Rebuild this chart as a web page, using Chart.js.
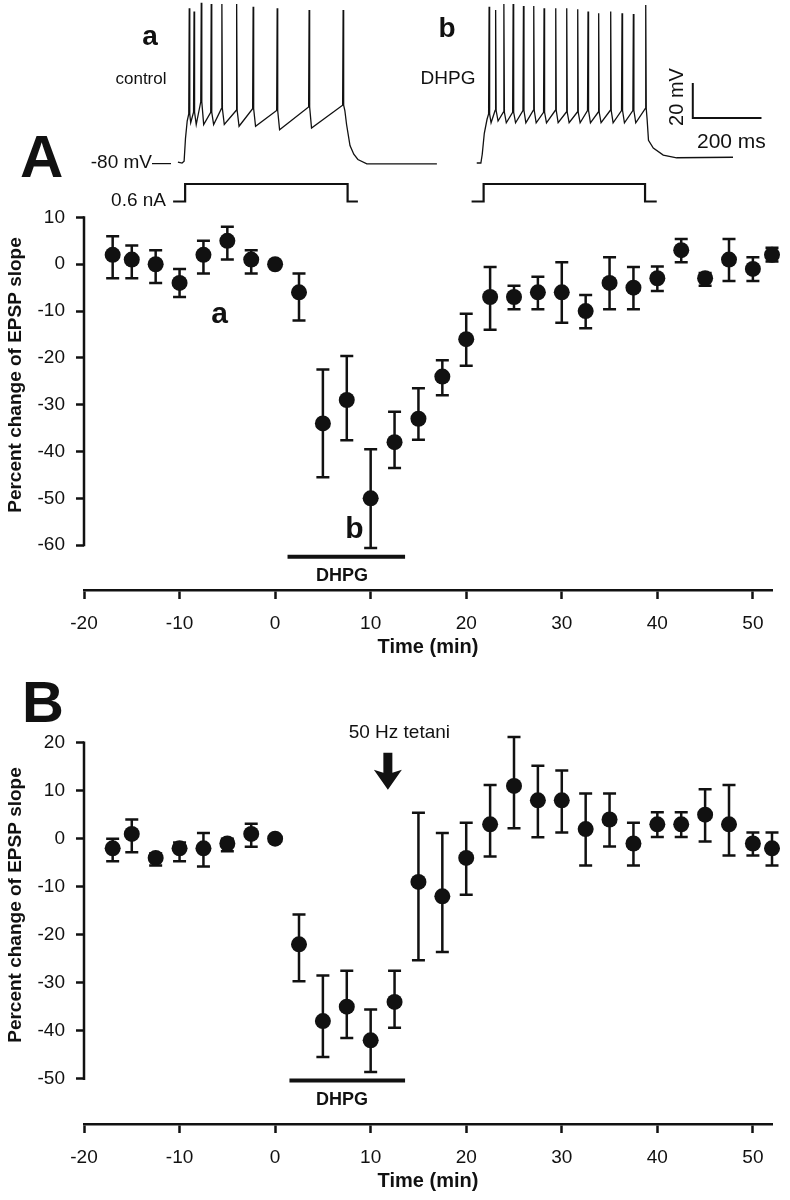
<!DOCTYPE html>
<html>
<head>
<meta charset="utf-8">
<script src="https://cdn.jsdelivr.net/npm/chart.js@4.4.1/dist/chart.umd.min.js"></script>
<style>
  html, body { margin: 0; padding: 0; background: #fff; }
  #page { position: relative; width: 790px; height: 1200px; overflow: hidden; background: #fff; }
  canvas { position: absolute; left: 0; }
</style>
</head>
<body>
<div id="page">
  <canvas id="chartA" width="790" height="465" style="top:195px"></canvas>
  <canvas id="chartB" width="790" height="534" style="top:660px"></canvas>
  <canvas id="traces" width="790" height="215" style="top:0px"></canvas>
</div>
<script>
const INK = "#111";
const FONT = "'Liberation Sans', Arial, Helvetica, sans-serif";

// ! x axis ticks (minutes), shared by both panels
const xTicks = [-20, -10, 0, 10, 20, 30, 40, 50];

// ! panel A : DHPG alone
const timesA = [-17, -15, -12.5, -10, -7.5, -5, -2.5, 0, 2.5, 5, 7.5, 10, 12.5, 15, 17.5, 20, 22.5, 25, 27.5, 30, 32.5, 35, 37.5, 40, 42.5, 45, 47.5, 50, 52];
const valuesA = [2, 1, 0, -4, 2, 5, 1, 0, -6, -34, -29, -50, -38, -33, -24, -16, -7, -7, -6, -6, -10, -4, -5, -3, 3, -3, 1, -1, 2];
const highA = [6, 4, 3, -1, 5, 8, 3, null, -2, -22.5, -19.6, -39.5, -31.5, -26.5, -20.5, -10.6, -0.6, -4.6, -2.7, 0.4, -6.6, 1.5, -0.6, -0.5, 5.4, -1.9, 5.4, 1.5, 3.5];
const lowA = [-3, -3, -4, -7, -2, 1, -2, null, -12, -45.5, -37.6, -60.6, -43.5, -37.5, -28, -21.7, -14, -9.6, -9.6, -12.5, -13.7, -9.6, -9.6, -5.7, 0.4, -4.6, -3.6, -3.6, 0.6];
const yTicksA = [10, 0, -10, -20, -30, -40, -50, -60];

// ! panel B : DHPG then 50 Hz tetani
const timesB = [-17, -15, -12.5, -10, -7.5, -5, -2.5, 0, 2.5, 5, 7.5, 10, 12.5, 15, 17.5, 20, 22.5, 25, 27.5, 30, 32.5, 35, 37.5, 40, 42.5, 45, 47.5, 50, 52];
const valuesB = [-2, 1, -4, -2, -2, -1, 1, 0, -22, -38, -35, -42, -34, -9, -12, -4, 3, 11, 8, 8, 2, 4, -1, 3, 3, 5, 3, -1, -2];
const highB = [0, 4, -3.1, -0.8, 1.2, 0, 3.1, null, -15.8, -28.5, -27.5, -35.6, -27.5, 5.4, 1.2, 3.3, 11.2, 21.2, 15.2, 14.2, 9.4, 9.4, 3.3, 5.5, 5.5, 10.3, 11.2, 1.3, 1.3];
const lowB = [-4.7, -2.8, -5.6, -4.7, -5.8, -2.6, -1.7, null, -29.7, -45.5, -41.5, -48.6, -39.4, -25.3, -23.6, -11.7, -3.7, 2.2, 0.3, 1.3, -5.6, -1.6, -5.6, 0.35, 0.35, -0.6, -3.5, -3.5, -5.6];
const yTicksB = [20, 10, 0, -10, -20, -30, -40, -50];

// DHPG application (min)
const dhpgA = [1.3, 13.6];
const dhpgB = [1.5, 13.6];

// ! voltage traces (ms, mV)
const onsetMsA = [518, 530, 536, 540, 545];
const onsetMvA = [-79.5, -80, -79, -66, -56];
const spikeMsA = [551, 565, 586, 615, 646, 689, 737, 807, 900, 999];
const spikePeakA = [8.4, 6.5, 11.6, 10.9, 10.9, 10.9, 9.3, 8.4, 7.4, 7.4];
const spikeBaseA = [-52, -51, -45, -51, -49, -50, -49, -50, -48, -47];
const troughA = [-57, -58, -58, -58, -58, -59, -59, -61, -60];
const tailMsA = [1004, 1009, 1019, 1030, 1042, 1068, 1272];
const tailMvA = [-50, -58, -70, -75, -78, -80.5, -80.5];

const onsetMsB = [1388, 1400, 1404, 1410, 1418];
const onsetMvB = [-80, -80, -75, -63, -55];
const spikeMsB = [1424, 1443, 1467, 1494, 1524, 1554, 1584, 1618, 1650, 1682, 1712, 1743, 1778, 1811, 1844, 1880];
const spikePeakB = [9.3, 7.4, 10.9, 10.9, 9.7, 9.7, 8.4, 8.4, 8.4, 7.8, 6.5, 5.5, 6.5, 5.5, 5.1, 10.3];
const spikeBaseB = [-52, -50, -51, -51, -50, -50, -51, -50, -51, -51, -50, -51, -50, -50, -50, -49];
const troughB = [-57, -56, -57, -57, -57, -57, -57, -57, -57, -57, -57, -57, -57, -57, -57];
const tailMsB = [1884, 1888, 1902, 1931, 1970, 2134];
const tailMvB = [-55, -67, -71.5, -75.5, -77, -76.7];

// current steps (ms, nA)
const stepMsA = [504, 539, 1012, 1042];
const stepNaA = [0, 0.6, 0, 0];
const stepMsB = [1373, 1408, 1878, 1912];
const stepNaB = [0, 0.6, 0, 0];

// ! joins the read points into one polyline
function buildTrace(onMs, onMv, spikes, peaks, bases, troughs, tailMs, tailMv) {
  const pts = onMs.map((t, i) => ({ x: t, y: onMv[i] }));
  spikes.forEach((t, i) => {
    pts.push({ x: t - 1.5, y: bases[i] });
    pts.push({ x: t, y: peaks[i] });
    pts.push({ x: t + 1.5, y: bases[i] });
    if (i < troughs.length) {
      const gap = spikes[i + 1] - t;
      pts.push({ x: t + Math.min(7, gap * 0.3), y: troughs[i] });
    }
  });
  tailMs.forEach((t, i) => pts.push({ x: t, y: tailMv[i] }));
  return pts;
}

// ! error bars drawn with the chart's own scales
const errorBars = {
  id: "errorBars",
  beforeDatasetsDraw(chart) {
    const ctx = chart.ctx;
    const xs = chart.scales.x;
    const ys = chart.scales.y;
    chart.data.datasets.forEach((ds) => {
      if (!ds.errLow) return;
      ctx.save();
      ctx.strokeStyle = INK;
      ctx.lineWidth = 2.5;
      ds.data.forEach((p, i) => {
        const lo = ds.errLow[i];
        const hi = ds.errHigh[i];
        if (lo === null || hi === null) return;
        const x = xs.getPixelForValue(p.x);
        const yl = ys.getPixelForValue(lo);
        const yh = ys.getPixelForValue(hi);
        ctx.beginPath();
        ctx.moveTo(x, yl);
        ctx.lineTo(x, yh);
        ctx.moveTo(x - 6.5, yl);
        ctx.lineTo(x + 6.5, yl);
        ctx.moveTo(x - 6.5, yh);
        ctx.lineTo(x + 6.5, yh);
        ctx.stroke();
      });
      ctx.restore();
    });
  },
};

// ! axis line, DHPG bar, labels for each panel
function makeExtras(cfg) {
  return {
    id: "extras" + cfg.name,
    afterDraw(chart) {
      const ctx = chart.ctx;
      const xs = chart.scales.x;
      const ys = chart.scales.y;
      const left = chart.chartArea.left;
      ctx.save();
      ctx.strokeStyle = INK;
      ctx.fillStyle = INK;

      // y axis only between its end ticks
      ctx.lineWidth = 2.5;
      ctx.beginPath();
      ctx.moveTo(left, ys.getPixelForValue(cfg.yTicks[0]) - 1.2);
      ctx.lineTo(left, ys.getPixelForValue(cfg.yTicks[cfg.yTicks.length - 1]) + 1.2);
      ctx.stroke();

      // DHPG bar
      ctx.lineWidth = 4;
      ctx.beginPath();
      ctx.moveTo(xs.getPixelForValue(cfg.dhpg[0]), ys.getPixelForValue(cfg.barY));
      ctx.lineTo(xs.getPixelForValue(cfg.dhpg[1]), ys.getPixelForValue(cfg.barY));
      ctx.stroke();
      ctx.font = "bold 18px " + FONT;
      ctx.textAlign = "center";
      ctx.textBaseline = "middle";
      ctx.fillText("DHPG", xs.getPixelForValue(7), ys.getPixelForValue(cfg.barY - 4));

      // y title
      ctx.save();
      ctx.translate(16, cfg.titleY);
      ctx.rotate(-Math.PI / 2);
      ctx.font = "bold 19px " + FONT;
      ctx.fillText("Percent change of EPSP slope", 0, 0);
      ctx.restore();

      if (cfg.name === "A") {
        ctx.font = "bold 30px " + FONT;
        ctx.fillText("a", xs.getPixelForValue(-5.8), ys.getPixelForValue(-10.8));
        ctx.fillText("b", xs.getPixelForValue(8.3), ys.getPixelForValue(-56.7));
      } else {
        ctx.font = "19px " + FONT;
        ctx.fillText("50 Hz tetani", xs.getPixelForValue(13), ys.getPixelForValue(22));
        // down arrow for the tetanus
        const ax = xs.getPixelForValue(11.8);
        const top = ys.getPixelForValue(17.9);
        const bot = ys.getPixelForValue(10.2);
        ctx.beginPath();
        ctx.moveTo(ax - 4.5, top);
        ctx.lineTo(ax + 4.5, top);
        ctx.lineTo(ax + 4.5, bot - 17);
        ctx.lineTo(ax + 14, bot - 20);
        ctx.lineTo(ax, bot);
        ctx.lineTo(ax - 14, bot - 20);
        ctx.lineTo(ax - 4.5, bot - 17);
        ctx.closePath();
        ctx.fill();
        ctx.font = "bold 58px " + FONT;
        ctx.textAlign = "left";
        ctx.textBaseline = "alphabetic";
        ctx.fillText("B", 22, 62);
      }
      ctx.restore();
    },
  };
}

function makePanel(cfg) {
  return new Chart(document.getElementById(cfg.canvas), {
    type: "scatter",
    data: {
      datasets: [
        {
          data: cfg.times.map((t, i) => ({ x: t, y: cfg.values[i] })),
          errLow: cfg.low,
          errHigh: cfg.high,
          pointRadius: 8,
          pointHoverRadius: 8,
          backgroundColor: INK,
          borderWidth: 0,
          clip: false,
        },
      ],
    },
    options: {
      responsive: false,
      animation: false,
      devicePixelRatio: 1,
      events: [],
      layout: { padding: { top: cfg.padTop, right: 18, left: 0, bottom: 0 } },
      plugins: { legend: { display: false }, tooltip: { enabled: false } },
      scales: {
        x: {
          type: "linear",
          min: -20,
          max: 52,
          afterBuildTicks: (s) => { s.ticks = xTicks.map((v) => ({ value: v })); },
          afterFit: (s) => { s.height = 70; },
          border: { display: true, color: INK, width: 2.5 },
          grid: { drawOnChartArea: false, tickLength: 9, tickWidth: 2.5, tickColor: INK },
          ticks: { font: { family: FONT, size: 19 }, color: INK, padding: 13, maxRotation: 0 },
          title: { display: true, text: "Time (min)", color: INK, font: { family: FONT, size: 20, weight: "bold" }, padding: { top: 0, bottom: 1 } },
        },
        y: {
          type: "linear",
          min: cfg.yMin,
          max: cfg.yMax,
          afterBuildTicks: (s) => { s.ticks = cfg.yTicks.map((v) => ({ value: v })); },
          afterFit: (s) => { s.width = 84; },
          border: { display: false },
          grid: { drawOnChartArea: false, tickLength: 8, tickWidth: 2.5, tickColor: INK },
          ticks: { font: { family: FONT, size: 19 }, color: INK, padding: 11 },
        },
      },
    },
    plugins: [errorBars, makeExtras(cfg)],
  });
}

makePanel({ name: "A", canvas: "chartA", times: timesA, values: valuesA, low: lowA, high: highA,
  yTicks: yTicksA, yMin: -69.58, yMax: 10, padTop: 13, dhpg: dhpgA, barY: -62.5, titleY: 180 });
makePanel({ name: "B", canvas: "chartB", times: timesB, values: valuesB, low: lowB, high: highB,
  yTicks: yTicksB, yMin: -59.44, yMax: 20, padTop: 82.7, dhpg: dhpgB, barY: -50.4, titleY: 245 });

// ! inset traces on top
const traceExtras = {
  id: "traceExtras",
  afterDraw(chart) {
    const ctx = chart.ctx;
    const xs = chart.scales.x;
    const ys = chart.scales.y;
    const yi = chart.scales.yI;
    ctx.save();
    ctx.fillStyle = INK;
    ctx.strokeStyle = INK;

    // scale bar 20 mV / 200 ms
    ctx.lineWidth = 2;
    ctx.beginPath();
    ctx.moveTo(xs.getPixelForValue(2017), ys.getPixelForValue(-34.3));
    ctx.lineTo(xs.getPixelForValue(2017), ys.getPixelForValue(-54.3));
    ctx.lineTo(xs.getPixelForValue(2217), ys.getPixelForValue(-54.3));
    ctx.stroke();

    ctx.textBaseline = "alphabetic";
    ctx.textAlign = "left";
    ctx.font = "21px " + FONT;
    ctx.fillText("200 ms", 697, 148);
    ctx.save();
    ctx.translate(677, 97);
    ctx.rotate(-Math.PI / 2);
    ctx.textAlign = "center";
    ctx.textBaseline = "middle";
    ctx.font = "20px " + FONT;
    ctx.fillText("20 mV", 0, 0);
    ctx.restore();

    ctx.textAlign = "right";
    ctx.textBaseline = "middle";
    ctx.font = "19px " + FONT;
    ctx.fillText("-80 mV\u2014", 171, ys.getPixelForValue(-80));
    ctx.fillText("0.6 nA", 166, yi.getPixelForValue(0) - 1);

    ctx.textAlign = "center";
    ctx.textBaseline = "alphabetic";
    ctx.font = "bold 28px " + FONT;
    ctx.fillText("a", 150, 45);
    ctx.fillText("b", 447, 37);
    ctx.font = "17px " + FONT;
    ctx.fillText("control", 141, 84);
    ctx.font = "19px " + FONT;
    ctx.fillText("DHPG", 448, 84);

    ctx.textAlign = "left";
    ctx.font = "bold 60px " + FONT;
    ctx.fillText("A", 20, 177);
    ctx.restore();
  },
};

new Chart(document.getElementById("traces"), {
  type: "line",
  data: {
    datasets: [
      { data: buildTrace(onsetMsA, onsetMvA, spikeMsA, spikePeakA, spikeBaseA, troughA, tailMsA, tailMvA), yAxisID: "y", borderColor: INK, borderWidth: 1.3 },
      { data: buildTrace(onsetMsB, onsetMvB, spikeMsB, spikePeakB, spikeBaseB, troughB, tailMsB, tailMvB), yAxisID: "y", borderColor: INK, borderWidth: 1.3 },
      { data: stepMsA.map((t, i) => ({ x: t, y: stepNaA[i] })), yAxisID: "yI", borderColor: INK, borderWidth: 2.2, stepped: "before" },
      { data: stepMsB.map((t, i) => ({ x: t, y: stepNaB[i] })), yAxisID: "yI", borderColor: INK, borderWidth: 2.2, stepped: "before" },
    ],
  },
  options: {
    responsive: false,
    animation: false,
    devicePixelRatio: 1,
    events: [],
    elements: { point: { radius: 0 }, line: { tension: 0 } },
    layout: { padding: 0 },
    plugins: { legend: { display: false }, tooltip: { enabled: false } },
    scales: {
      x: { type: "linear", display: false, min: 0, max: 2300 },
      y: { type: "linear", display: false, min: -109.7, max: 13.14 },
      yI: { type: "linear", display: false, min: -0.463, max: 6.91 },
    },
  },
  plugins: [traceExtras],
});
</script>
</body>
</html>
